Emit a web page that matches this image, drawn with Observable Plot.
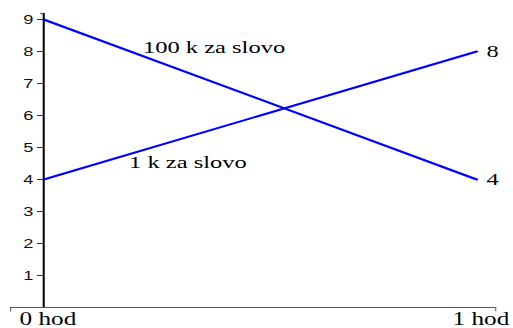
<!DOCTYPE html>
<html>
<head>
<meta charset="utf-8">
<script src="https://cdn.jsdelivr.net/npm/d3@7"></script>
<script src="https://cdn.jsdelivr.net/npm/@observablehq/plot@0.6"></script>
<style>
  html, body { margin: 0; padding: 0; background: #fff; overflow: hidden; }
</style>
</head>
<body>
<div id="chart"></div>
<script>
// Data
const times = [0, 1];
const xTickLabels = ["0 hod", "1 hod"];
const seriesNames = ["100 k za slovo", "1 k za slovo"];
const values100k = [9, 4];
const values1k = [4, 8];
const yTicks = [1, 2, 3, 4, 5, 6, 7, 8, 9];
// annotation anchors (data space)
const labelT = [0.229, 0.197];
const labelV = [8.12, 4.53];

const rows = [];
times.forEach((t, i) => {
  rows.push({series: seriesNames[0], t, v: values100k[i]});
  rows.push({series: seriesNames[1], t, v: values1k[i]});
});
const seriesLabels = seriesNames.map((s, i) => ({text: s, t: labelT[i], v: labelV[i]}));
const endLabels = [
  {t: times[1], v: values1k[1], text: String(values1k[1])},
  {t: times[1], v: values100k[1], text: String(values100k[1])}
];

const baseW = 366;   // drawn, then stretched horizontally to 513
const yTop = 9.1875;
const xLo = -0.0764, xHi = 1.044;
const serif = "Liberation Serif";
const sans = "Liberation Sans";

const plot = Plot.plot({
  width: baseW,
  height: 328,
  marginLeft: 30.7,
  marginRight: 26.4,
  marginTop: 13,
  marginBottom: 21,
  x: {domain: [0, 1]},
  y: {domain: [0, yTop]},
  style: {background: "#fff", color: "#000"},
  marks: [
    // x axis line with end stubs
    Plot.ruleY([0], {x1: xLo, x2: xHi, stroke: "#555", strokeWidth: 1}),
    Plot.ruleX([xLo, xHi], {y1: 0, y2: -0.13, stroke: "#555", strokeWidth: 0.75}),
    // y axis line with top stub
    Plot.ruleX([0], {y1: 0, y2: yTop, stroke: "#000", strokeWidth: 1.45}),
    Plot.ruleY([yTop], {x1: -0.007, x2: 0, stroke: "#777", strokeWidth: 1.5}),
    Plot.axisY({
      ticks: yTicks,
      tickSize: 4.3,
      tickPadding: 3,
      stroke: "#333",
      fontSize: 13,
      fontFamily: sans,
      fill: "#111",
      label: null
    }),
    Plot.axisX({
      ticks: times,
      tickFormat: (d) => xTickLabels[times.indexOf(d)],
      tickSize: 0,
      tickPadding: 4.5,
      fontSize: 18,
      fontFamily: serif,
      fill: "#000",
      dx: 3,
      label: null
    }),
    Plot.line(rows, {x: "t", y: "v", z: "series", stroke: "#0000ff", strokeWidth: 2}),
    Plot.text(seriesLabels, {x: "t", y: "v", text: "text", textAnchor: "start", fontSize: 17.5, fontFamily: serif, fill: "#000"}),
    Plot.text(endLabels, {x: "t", y: "v", text: "text", textAnchor: "start", dx: 7, fontSize: 17.5, fontFamily: serif, fill: "#000"})
  ]
});

plot.setAttribute("viewBox", `0 0 ${baseW} 328`);
plot.setAttribute("width", 513);
plot.setAttribute("height", 328);
plot.setAttribute("preserveAspectRatio", "none");
plot.style.maxWidth = "none";
plot.style.width = "513px";
plot.style.height = "328px";
plot.style.display = "block";
document.getElementById("chart").appendChild(plot);
</script>
</body>
</html>
